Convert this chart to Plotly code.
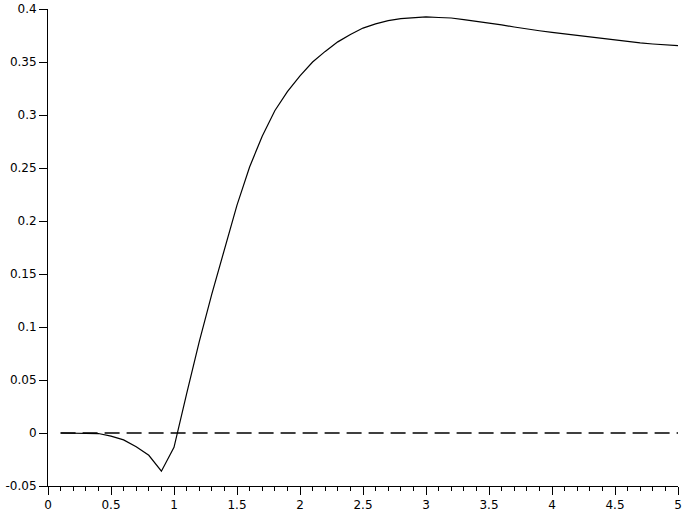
import plotly.graph_objects as go

# curve, step 0.1
x_vals = [round(0.1 * i, 1) for i in range(1, 51)]
y_vals = [0, 0, 0, -0.0005, -0.003, -0.0065, -0.013, -0.021, -0.036, -0.0135,
          0.037, 0.086, 0.131, 0.174, 0.215, 0.251, 0.280, 0.304, 0.322, 0.337,
          0.350, 0.360, 0.369, 0.376, 0.382, 0.386, 0.389, 0.391, 0.392, 0.3925,
          0.392, 0.3915, 0.390, 0.3885, 0.387, 0.385, 0.383, 0.381, 0.3795, 0.378,
          0.3765, 0.375, 0.3735, 0.372, 0.3707, 0.3695, 0.368, 0.367, 0.366, 0.3655]
ref_x = [0.1, 5.0]
ref_y = [0, 0]

x_ticks = [0, 0.5, 1, 1.5, 2, 2.5, 3, 3.5, 4, 4.5, 5]
x_ticktext = ["0", "0.5", "1", "1.5", "2", "2.5", "3", "3.5", "4", "4.5", "5"]
y_ticks = [-0.05, 0, 0.05, 0.1, 0.15, 0.2, 0.25, 0.3, 0.35, 0.4]
y_ticktext = ["-0.05", "0", "0.05", "0.1", "0.15", "0.2", "0.25", "0.3", "0.35", "0.4"]

fig = go.Figure()
fig.add_trace(go.Scatter(x=ref_x, y=ref_y, mode="lines", cliponaxis=False,
                         line=dict(color="black", width=1.3, dash="15px,7px")))
fig.add_trace(go.Scatter(x=x_vals, y=y_vals, mode="lines", cliponaxis=False,
                         line=dict(color="black", width=1.2)))

fig.update_layout(
    width=685, height=513,
    margin=dict(l=48, r=7, t=9, b=27),
    paper_bgcolor="white", plot_bgcolor="white",
    showlegend=False,
    font=dict(family="DejaVu Sans", size=12, color="black"),
    xaxis=dict(range=[0, 5], showgrid=False, zeroline=False, automargin=False,
               showline=True, linecolor="black", linewidth=1,
               ticks="outside", ticklen=8, tickcolor="black",
               tickvals=x_ticks, ticktext=x_ticktext,
               minor=dict(dtick=0.1, ticks="outside", ticklen=4, tickcolor="black")),
    yaxis=dict(range=[-0.05, 0.4], showgrid=False, zeroline=False, automargin=False,
               showline=True, linecolor="black", linewidth=1,
               ticks="outside", ticklen=8, tickcolor="black",
               tickvals=y_ticks, ticktext=y_ticktext),
)

# page body has a default 8px margin; drop it so the figure sits at the window corner
fig.write_html("out.html", config={"displayModeBar": False},
               post_script="document.body.style.margin='0';")
